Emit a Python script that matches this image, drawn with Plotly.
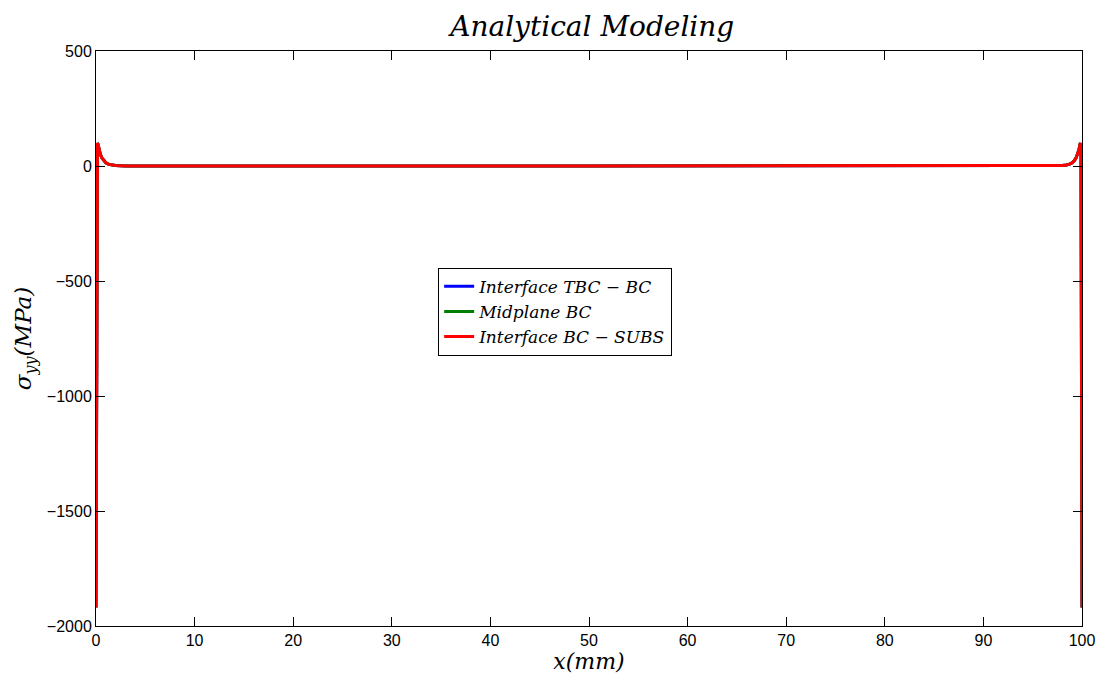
import plotly.graph_objects as go

# x positions (mm)
x_vals = [0.0, 0.05, 0.1, 0.15, 0.2, 0.3, 0.45, 0.6, 0.8, 1.0, 1.3, 1.6, 2.0, 2.5, 3.0,
          50.0,
          97.0, 97.5, 98.0, 98.4, 98.7, 99.0, 99.2, 99.4, 99.55, 99.7, 99.8, 99.85, 99.9, 99.95, 100.0]

# sigma_yy (MPa) for the three curves (overlapping)
y_tbc_bc = [-1920, -900, 40, 100, 95, 72, 50, 35, 22, 14, 7, 4, 2, 1, 0,
            0,
            0, 1, 2, 4, 7, 14, 22, 35, 50, 72, 95, 100, 40, -900, -1920]
y_mid_bc = [-1920, -900, 40, 100, 95, 72, 50, 35, 22, 14, 7, 4, 2, 1, 0,
            0,
            0, 1, 2, 4, 7, 14, 22, 35, 50, 72, 95, 100, 40, -900, -1920]
y_bc_subs = [-1920, -900, 40, 100, 95, 72, 50, 35, 22, 14, 7, 4, 2, 1, 0,
             0,
             0, 1, 2, 4, 7, 14, 22, 35, 50, 72, 95, 100, 40, -900, -1920]

names = ["<i>Interface TBC − BC</i>", "<i>Midplane BC</i>", "<i>Interface BC − SUBS</i>"]
colors = ["#0000ff", "#007f00", "#ff0000"]
series = [y_tbc_bc, y_mid_bc, y_bc_subs]

x_ticks = [0, 10, 20, 30, 40, 50, 60, 70, 80, 90, 100]
y_ticks = [500, 0, -500, -1000, -1500, -2000]

serif = "DejaVu Serif, Liberation Serif"

fig = go.Figure()
for name, col, ys in zip(names, colors, series):
    fig.add_trace(go.Scatter(x=x_vals, y=ys, mode="lines", name=name,
                             line=dict(color=col, width=3)))

axis_common = dict(showline=True, linecolor="black", linewidth=1, mirror="allticks",
                   ticks="inside", ticklen=9, tickcolor="black", showgrid=False,
                   zeroline=False, tickfont=dict(family="Liberation Sans, Arial", size=16, color="black"))

fig.update_layout(
    width=1107, height=679,
    paper_bgcolor="white", plot_bgcolor="white",
    margin=dict(l=96, r=21, t=51, b=50),
    title=dict(text="<i>Analytical Modeling</i>", x=0.535, xanchor="center", y=0.962, yanchor="middle",
               font=dict(family=serif, size=28, color="black")),
    xaxis=dict(range=[0, 100], tickvals=x_ticks, **axis_common,
               title=dict(text="<i>x(mm)</i>", standoff=2,
                          font=dict(family=serif, size=22, color="black"))),
    yaxis=dict(range=[-2000, 500], tickvals=y_ticks, **axis_common,
               title=dict(text="<i>σ<sub>yy</sub>(MPa)</i>", standoff=8,
                          font=dict(family=serif, size=23, color="black"))),
    legend=dict(x=0.347, y=0.623, xanchor="left", yanchor="top",
                bgcolor="white", bordercolor="black", borderwidth=1,
                font=dict(family=serif, size=17, color="black"),
                tracegroupgap=0, itemwidth=30),
    showlegend=True,
)

fig.write_html("out.html")
